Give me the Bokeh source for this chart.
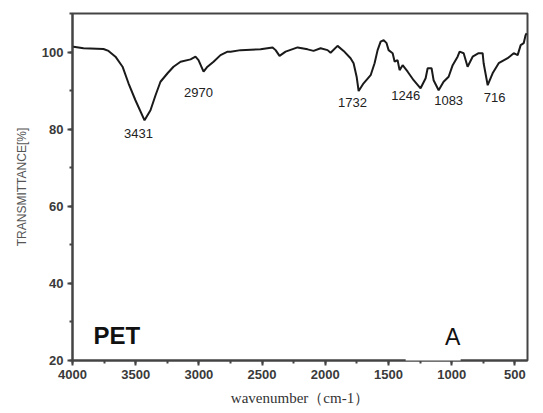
from bokeh.plotting import figure
from bokeh.models import Range1d, SingleIntervalTicker, Label, BoxAnnotation
from bokeh.embed import file_html
from bokeh.resources import INLINE

wavenumber = [4000, 3992, 3913, 3755, 3715, 3660, 3604, 3557, 3502, 3430, 3383, 3343, 3304,
              3248, 3201, 3145, 3066, 3027, 3003, 2963, 2932, 2884, 2829, 2773, 2749, 2670,
              2512, 2417, 2393, 2362, 2314, 2219, 2140, 2093, 2037, 1982, 1958, 1903, 1855,
              1800, 1776, 1752, 1736, 1697, 1641, 1610, 1586, 1562, 1538, 1515, 1499, 1467,
              1451, 1428, 1412, 1388, 1348, 1301, 1246, 1206, 1190, 1159, 1143, 1103, 1064,
              1024, 992, 953, 937, 905, 874, 834, 787, 755, 747, 715, 676, 628, 557, 509,
              478, 454, 430, 415, 407]
transmittance = [101.4, 101.4, 101.0, 100.8, 100.3, 98.8, 96.2, 91.9, 87.5, 82.3, 84.9, 88.8, 92.3,
                 94.5, 96.2, 97.5, 98.1, 98.8, 97.9, 94.9, 96.2, 97.5, 99.2, 100.1, 100.1, 100.5,
                 100.7, 101.2, 100.5, 99.0, 100.1, 101.2, 100.7, 100.3, 101.0, 100.5, 99.8, 101.6, 100.3,
                 98.4, 97.1, 93.6, 89.9, 91.9, 94.0, 97.1, 100.5, 102.7, 103.1, 102.3, 100.5, 99.7,
                 97.5, 97.9, 95.3, 96.6, 94.9, 92.7, 90.6, 93.2, 95.8, 95.8, 92.7, 90.1, 92.3,
                 93.6, 96.6, 98.8, 100.1, 99.7, 96.2, 98.8, 99.7, 99.7, 97.1, 91.4, 94.5, 97.1, 98.4, 99.7,
                 99.2, 101.8, 102.3, 104.4, 104.9]

peak_labels = ["3431", "2970", "1732", "1246", "1083", "716"]
peak_label_x = [3478, 3003, 1784, 1364, 1024, 660]
peak_label_y = [79.0, 89.6, 86.8, 88.8, 87.5, 88.3]

p = figure(width=543, height=413, output_backend="svg", toolbar_location=None,
           x_range=Range1d(4000, 400), y_range=Range1d(20, 110),
           min_border_left=72, min_border_right=16, min_border_top=13, min_border_bottom=53)
p.background_fill_color = "white"
p.border_fill_color = "white"
p.outline_line_color = "#444444"
p.outline_line_width = 2
p.xgrid.visible = False
p.ygrid.visible = False

p.line(wavenumber, transmittance, line_color="#1a1a1a", line_width=2)

for t, x, y in zip(peak_labels, peak_label_x, peak_label_y):
    p.add_layout(Label(x=x, y=y, text=t, text_align="center", text_baseline="middle",
                       text_font="Liberation Sans", text_font_size="13px", text_color="#222222"))

p.add_layout(Label(x=3834, y=26.5, text="PET", text_align="left", text_baseline="middle",
                   text_font="Liberation Sans", text_font_size="24px", text_font_style="bold",
                   text_color="#111111"))

p.add_layout(BoxAnnotation(left=1364, right=929, bottom=8, top=29, fill_color="white",
                           fill_alpha=1.0, line_alpha=0, level="overlay"))
p.add_layout(Label(x=992, y=26.0, text="A", text_align="center", text_baseline="middle",
                   text_font="Liberation Sans", text_font_size="23px", text_color="#111111",
                   level="overlay"))

xa = p.xaxis[0]
xa.ticker = SingleIntervalTicker(interval=500, num_minor_ticks=2)
xa.axis_label = "wavenumber（cm-1）"
xa.axis_label_text_font = "Liberation Serif"
xa.axis_label_text_font_size = "15px"
xa.axis_label_text_font_style = "normal"
xa.axis_label_text_color = "#333333"
xa.axis_label_standoff = 8

ya = p.yaxis[0]
ya.ticker = SingleIntervalTicker(interval=20, num_minor_ticks=2)
ya.axis_label = "TRANSMITTANCE[%]"
ya.axis_label_text_font = "Liberation Sans"
ya.axis_label_text_font_size = "12px"
ya.axis_label_text_font_style = "normal"
ya.axis_label_text_color = "#555555"
ya.axis_label_standoff = 10

for ax in (xa, ya):
    ax.axis_line_color = "#444444"
    ax.axis_line_width = 2
    ax.major_tick_line_color = "#444444"
    ax.major_tick_line_width = 2
    ax.minor_tick_line_color = "#444444"
    ax.minor_tick_line_width = 2
    ax.major_tick_out = 5
    ax.major_tick_in = 0
    ax.minor_tick_out = 3
    ax.minor_tick_in = 0
    ax.major_label_text_font = "Liberation Sans"
    ax.major_label_text_font_size = "13px"
    ax.major_label_text_font_style = "bold"
    ax.major_label_text_color = "#3a3a3a"
    ax.major_label_standoff = 4

open("out.html", "w").write(file_html(p, INLINE))
